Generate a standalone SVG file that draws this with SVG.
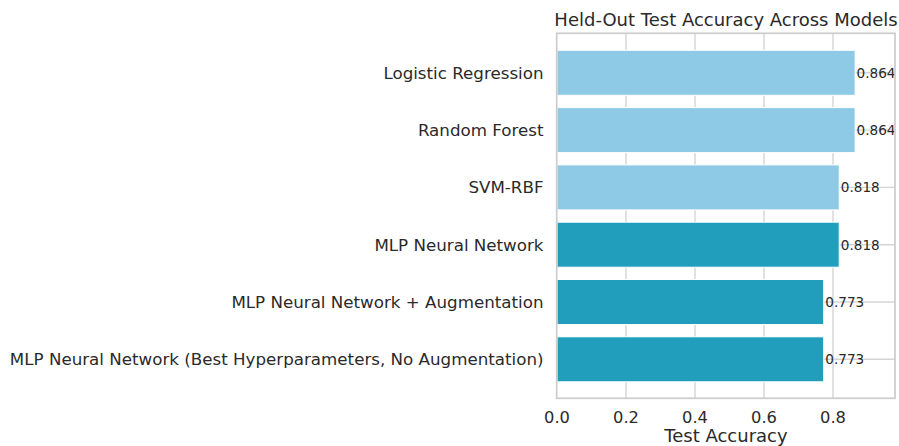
<svg xmlns="http://www.w3.org/2000/svg" width="899" height="446" viewBox="0 0 899 446">
  <style>
    text { font-family: "DejaVu Sans", "Liberation Sans", sans-serif; fill: #2a2a2a; }
    .grid { stroke: #d4d4d4; stroke-width: 1.4; fill: none; }
    .frame { stroke: #cccccc; stroke-width: 1.7; fill: none; }
    .bar { stroke: #ffffff; stroke-width: 1; }
    .base { fill: #8ecae6; }
    .mlp { fill: #219ebc; }
    .ylab { font-size: 16.7px; text-anchor: end; }
    .xtick { font-size: 16.3px; text-anchor: middle; }
    .val { font-size: 13.6px; }
    .title { font-size: 18px; text-anchor: middle; }
  </style>
  <rect width="899" height="446" fill="#ffffff"/>

  <!-- grid behind the bars -->
  <g id="grid">
    <line class="grid" x1="626" y1="33.3" x2="626" y2="398.3"/>
    <line class="grid" x1="695" y1="33.3" x2="695" y2="398.3"/>
    <line class="grid" x1="764" y1="33.3" x2="764" y2="398.3"/>
    <line class="grid" x1="833" y1="33.3" x2="833" y2="398.3"/>
    <line class="grid" x1="556.7" y1="72.8" x2="895" y2="72.8"/>
    <line class="grid" x1="556.7" y1="130.1" x2="895" y2="130.1"/>
    <line class="grid" x1="556.7" y1="187.4" x2="895" y2="187.4"/>
    <line class="grid" x1="556.7" y1="244.7" x2="895" y2="244.7"/>
    <line class="grid" x1="556.7" y1="302.0" x2="895" y2="302.0"/>
    <line class="grid" x1="556.7" y1="359.3" x2="895" y2="359.3"/>
  </g>

  <!-- bars: width = accuracy * 345 px -->
  <g id="bar-logreg">
    <rect class="bar base" x="557" y="50.3" width="298.1" height="45"/>
    <text class="ylab" x="543.5" y="78.8">Logistic Regression</text>
    <text class="val" x="856.6" y="77.6">0.864</text>
  </g>
  <g id="bar-rf">
    <rect class="bar base" x="557" y="107.6" width="298.1" height="45"/>
    <text class="ylab" x="543.5" y="136.1">Random Forest</text>
    <text class="val" x="856.6" y="134.9">0.864</text>
  </g>
  <g id="bar-svm">
    <rect class="bar base" x="557" y="164.9" width="282.2" height="45"/>
    <text class="ylab" x="543.5" y="193.4">SVM-RBF</text>
    <text class="val" x="840.8" y="192.2">0.818</text>
  </g>
  <g id="bar-mlp">
    <rect class="bar mlp" x="557" y="222.2" width="282.2" height="45"/>
    <text class="ylab" x="543.5" y="250.7">MLP Neural Network</text>
    <text class="val" x="840.8" y="249.5">0.818</text>
  </g>
  <g id="bar-mlp-aug">
    <rect class="bar mlp" x="557" y="279.5" width="266.7" height="45"/>
    <text class="ylab" x="543.5" y="308.0">MLP Neural Network + Augmentation</text>
    <text class="val" x="825.3" y="306.8">0.773</text>
  </g>
  <g id="bar-mlp-best">
    <rect class="bar mlp" x="557" y="336.8" width="266.7" height="45"/>
    <text class="ylab" x="543.5" y="365.3">MLP Neural Network (Best Hyperparameters, No Augmentation)</text>
    <text class="val" x="825.3" y="364.1">0.773</text>
  </g>

  <!-- axes frame -->
  <rect class="frame" x="556.7" y="33.3" width="338.3" height="365"/>

  <!-- x axis ticks and labels -->
  <g id="x-axis">
    <text class="xtick" x="557" y="422.5">0.0</text>
    <text class="xtick" x="626" y="422.5">0.2</text>
    <text class="xtick" x="695" y="422.5">0.4</text>
    <text class="xtick" x="764" y="422.5">0.6</text>
    <text class="xtick" x="833" y="422.5">0.8</text>
    <text class="title" x="726" y="442">Test Accuracy</text>
  </g>

  <text class="title" x="726" y="26">Held-Out Test Accuracy Across Models</text>
</svg>
